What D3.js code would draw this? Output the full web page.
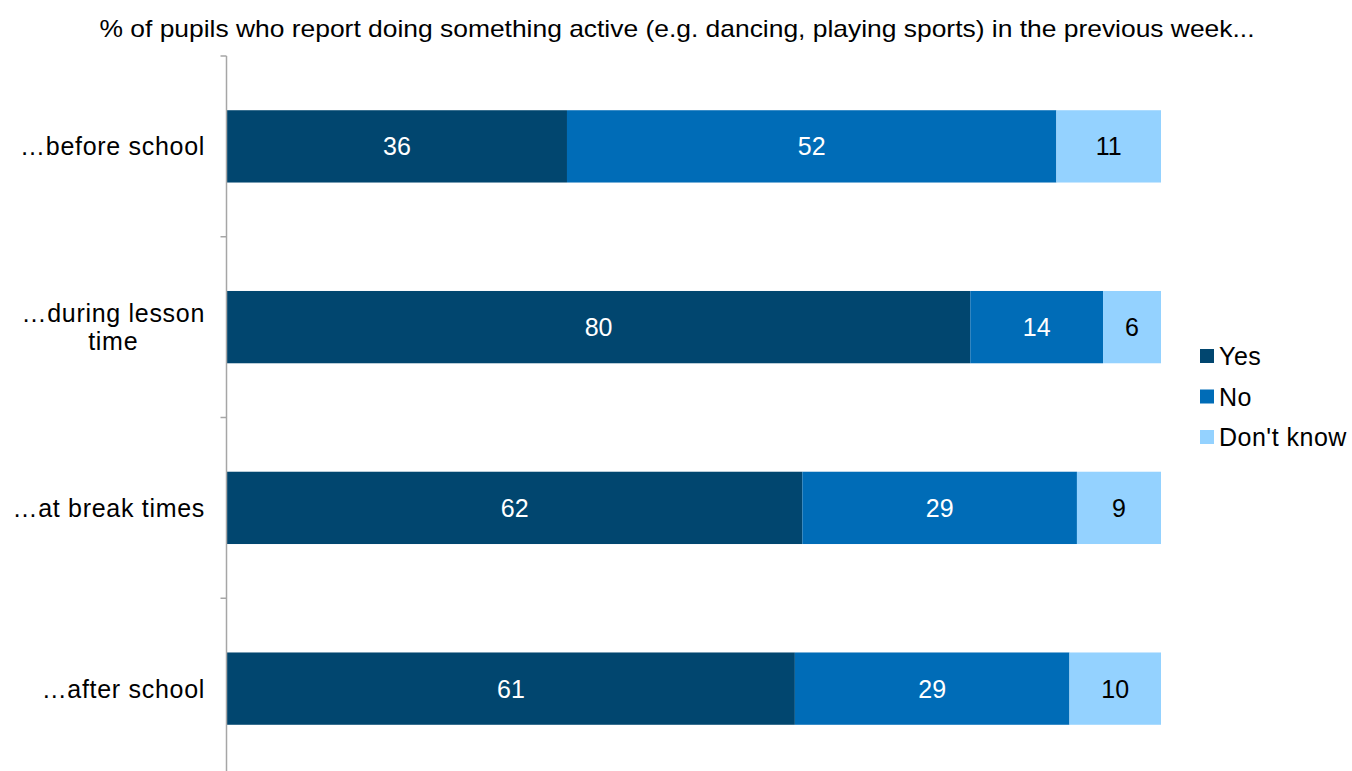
<!DOCTYPE html>
<html><head><meta charset="utf-8">
<script src="https://cdn.jsdelivr.net/npm/d3@7"></script>
<style>body{margin:0;background:#fff}svg{display:block}text{font-family:"Liberation Sans",Arial,sans-serif}</style>
</head><body>
<svg id="c" width="1352" height="771"></svg>
<script>
const categories = ["…before school", "…during lesson time", "…at break times", "…after school"];
const categoryLines = [["…before school"], ["…during lesson", "time"], ["…at break times"], ["…after school"]];
const seriesNames = ["Yes", "No", "Don't know"];
const yesValues = [36.4, 79.5, 61.6, 60.8];
const noValues = [52.4, 14.2, 29.4, 29.4];
const dontKnowValues = [11.2, 6.2, 9.0, 9.8];
const colors = ["#01466F", "#006CB7", "#94D2FF"];
const chartTitle = "% of pupils who report doing something active (e.g. dancing, playing sports) in the previous week...";

(function () {
const svg = d3.select("#c");
const mLeft = 227, mRight = 1161, mTop = 56, mBottom = 779;
const fs = 25, ls = 0.7;
const series = [yesValues, noValues, dontKnowValues];
const rows = categories.map((c, i) => {
  const vals = series.map(s => s[i]);
  const tot = d3.sum(vals);
  let acc = 0;
  return {cat: c, i, segs: vals.map((v, k) => { const s = {k, v, x0: acc / tot, x1: (acc + v) / tot}; acc += v; return s; })};
});

const x = d3.scaleLinear().domain([0, 1]).range([mLeft, mRight]);
const y = d3.scaleBand().domain(categories).range([mTop, mBottom]).paddingInner(0.6).paddingOuter(0.3);

// title
svg.append("text").attr("x", 677).attr("y", 37).attr("text-anchor", "middle")
  .attr("font-size", 24).attr("fill", "#000").attr("textLength", 1155).attr("lengthAdjust", "spacingAndGlyphs").text(chartTitle);

// bars
const g = svg.append("g");
rows.forEach(r => {
  g.selectAll(null).data(r.segs).enter().append("rect")
    .attr("x", d => x(d.x0)).attr("width", d => x(d.x1) - x(d.x0))
    .attr("y", y(r.cat)).attr("height", y.bandwidth())
    .attr("fill", d => colors[d.k]);
  g.selectAll(null).data(r.segs).enter().append("text")
    .attr("x", d => (x(d.x0) + x(d.x1)) / 2).attr("y", y(r.cat) + y.bandwidth() / 2 + 9)
    .attr("text-anchor", "middle").attr("font-size", fs)
    .attr("fill", d => d.k === 2 ? "#000" : "#fff")
    .text(d => Math.round(d.v));
});

// axis
const axisG = svg.append("g").attr("transform", `translate(${mLeft - 0.5},0)`);
axisG.call(d3.axisLeft(y).tickSize(0).tickFormat(""));
axisG.select(".domain").attr("stroke", "#A6A6A6").attr("stroke-width", 1.5).attr("d", `M0,${mTop}V${mBottom}`);
const bounds = d3.range(categories.length + 1).map(i => mTop + i * (mBottom - mTop) / categories.length);
axisG.selectAll(".tk").data(bounds).enter().append("line").attr("class", "tk")
  .attr("x1", -6).attr("x2", 0).attr("y1", d => d).attr("y2", d => d)
  .attr("stroke", "#A6A6A6").attr("stroke-width", 1.5);

// category labels
categories.forEach((c, i) => {
  const lines = categoryLines[i];
  const t = svg.append("text").attr("font-size", fs).attr("letter-spacing", ls).attr("fill", "#000").attr("text-anchor", "middle");
  const cy = y(c) + y.bandwidth() / 2;
  const lh = 28;
  lines.forEach((ln, j) => {
    t.append("tspan").attr("x", 0).attr("y", cy + 9 - (lines.length - 1) * lh / 2 + j * lh).text(ln);
  });
  const w = d3.max(t.selectAll("tspan").nodes(), n => n.getComputedTextLength());
  t.selectAll("tspan").attr("x", 205 - w / 2);
});

// legend
const lg = svg.append("g");
seriesNames.forEach((n, k) => {
  const yy = 356 + k * 40.5;
  lg.append("rect").attr("x", 1200).attr("y", yy - 7).attr("width", 14).attr("height", 14).attr("fill", colors[k]);
  lg.append("text").attr("x", 1219).attr("y", yy + 9).attr("font-size", fs).attr("letter-spacing", 0.5).attr("fill", "#000").text(n);
});
})();
</script>
</body></html>
